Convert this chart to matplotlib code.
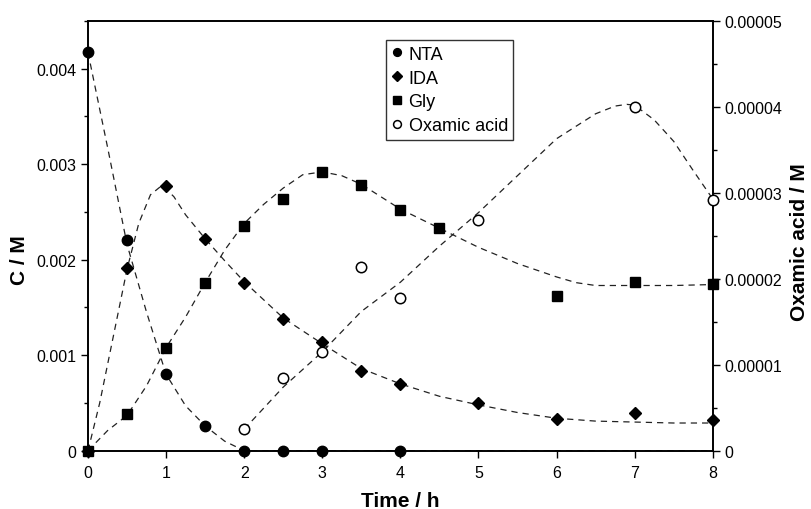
import numpy as np
import matplotlib
matplotlib.use('Agg')
import matplotlib.pyplot as plt
from matplotlib.ticker import MultipleLocator, FormatStrFormatter

plt.rcParams['font.family'] = ['Liberation Sans', 'DejaVu Sans']

# measured points
t_nta = [0, 0.5, 1, 1.5, 2, 2.5, 3, 4]
nta = [0.00417, 0.00221, 0.00080, 0.00026, 0, 0, 0, 0]

t_ida = [0, 0.5, 1, 1.5, 2, 2.5, 3, 3.5, 4, 5, 6, 7, 8]
ida = [0, 0.00191, 0.00277, 0.00222, 0.00176, 0.00138, 0.00114, 0.00083,
       0.00070, 0.00050, 0.00033, 0.00040, 0.00032]

t_gly = [0, 0.5, 1, 1.5, 2, 2.5, 3, 3.5, 4, 4.5, 6, 7, 8]
gly = [0, 0.00038, 0.00108, 0.00176, 0.00235, 0.00264, 0.00292, 0.00278,
       0.00252, 0.00233, 0.00162, 0.00177, 0.00175]

t_oxa = [2, 2.5, 3, 3.5, 4, 5, 7, 8]
oxa = [0.0000025, 0.0000085, 0.0000115, 0.0000214, 0.0000178, 0.0000269,
       0.0000400, 0.0000292]

# dashed trend curves
tc_nta = [0, 0.25, 0.5, 0.75, 1, 1.25, 1.5, 1.75, 2, 8]
c_nta = [0.00417, 0.00318, 0.00216, 0.00145, 0.00080, 0.00047, 0.00026,
         0.00010, 0, 0]

tc_ida = [0, 0.15, 0.3, 0.5, 0.65, 0.8, 0.95, 1.1, 1.25, 1.5, 1.75, 2, 2.5,
          3, 3.5, 4, 4.5, 5, 5.5, 6, 6.5, 7, 7.5, 8]
c_ida = [0, 0.00050, 0.00110, 0.00190, 0.00238, 0.00268, 0.00278, 0.00266,
         0.00247, 0.00222, 0.00199, 0.00177, 0.00139, 0.00112, 0.00086,
         0.00070, 0.00057, 0.00048, 0.00040, 0.00034, 0.00031, 0.00030,
         0.00029, 0.00029]

tc_gly = [0, 0.25, 0.5, 0.75, 1, 1.25, 1.5, 1.75, 2, 2.25, 2.5, 2.75, 3,
          3.25, 3.5, 4, 4.5, 5, 5.5, 6, 6.25, 6.5, 7, 7.5, 8]
c_gly = [0, 0.00021, 0.00037, 0.00068, 0.00108, 0.00140, 0.00176, 0.00210,
         0.00238, 0.00258, 0.00275, 0.00289, 0.00292, 0.00288, 0.00279,
         0.00253, 0.00233, 0.00213, 0.00196, 0.00182, 0.00176, 0.00173,
         0.00173, 0.00173, 0.00174]

tc_oxa = [2, 2.5, 3, 3.5, 4, 4.5, 5, 5.5, 6, 6.5, 6.75, 6.9, 7, 7.25, 7.5,
          7.75, 8]
c_oxa = [0.0000025, 0.0000074, 0.0000115, 0.0000162, 0.0000196, 0.0000238,
         0.0000277, 0.0000320, 0.0000363, 0.0000392, 0.0000401, 0.0000403,
         0.0000402, 0.0000385, 0.0000360, 0.0000326, 0.0000293]

fig = plt.figure(figsize=(8.11, 5.10), dpi=100)
ax = fig.add_axes([0.1085, 0.1143, 0.7703, 0.8426])
ax2 = ax.twinx()

dash = dict(color='#222222', lw=0.9, ls=(0, (5, 4)))
ax.plot(tc_nta, c_nta, **dash)
ax.plot(tc_ida, c_ida, **dash)
ax.plot(tc_gly, c_gly, **dash)
ax2.plot(tc_oxa, c_oxa, **dash)

h1, = ax.plot(t_nta, nta, 'o', color='black', ms=7.5, ls='none', clip_on=False, zorder=5)
h2, = ax.plot(t_ida, ida, 'D', color='black', ms=6.3, ls='none', clip_on=False, zorder=5)
h3, = ax.plot(t_gly, gly, 's', color='black', ms=7.5, ls='none', clip_on=False, zorder=5)
h4, = ax2.plot(t_oxa, oxa, 'o', mfc='white', mec='black', mew=1.1, ms=7.5,
               ls='none', clip_on=False, zorder=5)

ax.set_xlim(0, 8)
ax.set_ylim(0, 0.0045)
ax2.set_ylim(0, 0.00005)

ax.xaxis.set_major_locator(MultipleLocator(1))
ax.yaxis.set_major_locator(MultipleLocator(0.001))
ax.yaxis.set_minor_locator(MultipleLocator(0.0005))
ax.yaxis.set_major_formatter(FormatStrFormatter('%g'))
ax2.yaxis.set_major_locator(MultipleLocator(0.00001))
ax2.yaxis.set_minor_locator(MultipleLocator(0.000005))
ax2.yaxis.set_major_formatter(lambda v, p: '0' if v == 0 else '%.5f' % v)

ax.xaxis.set_major_formatter(FormatStrFormatter('%d'))
for a in (ax, ax2):
    a.tick_params(which='major', direction='out', length=5, width=1, labelsize=11.5, colors='black')
    a.tick_params(which='minor', direction='out', length=3, width=1)
    for s in a.spines.values():
        s.set_linewidth(1.2)
ax.tick_params(axis='x', pad=5)

ax.set_xlabel('Time / h', fontsize=15, fontweight='bold')
ax.xaxis.set_label_coords(0.5, -0.094)
ax.set_ylabel('C / M', fontsize=15, fontweight='bold')
ax.yaxis.set_label_coords(-0.095, 0.446)
ax2.set_ylabel('Oxamic acid / M', fontsize=15, fontweight='bold')
ax2.yaxis.set_label_coords(1.1235, 0.488)

leg = ax.legend([h1, h2, h3, h4], ['NTA', 'IDA', 'Gly', 'Oxamic acid'],
                loc='upper left', bbox_to_anchor=(0.477, 0.955), borderaxespad=0,
                fontsize=13, frameon=True, fancybox=False, edgecolor='black',
                handlelength=0.6, handletextpad=0.35, borderpad=0.3,
                labelspacing=0.38, markerscale=0.75)
leg.get_frame().set_linewidth(1.0)
leg.set_zorder(10)

fig.savefig('out.png', dpi=100)
